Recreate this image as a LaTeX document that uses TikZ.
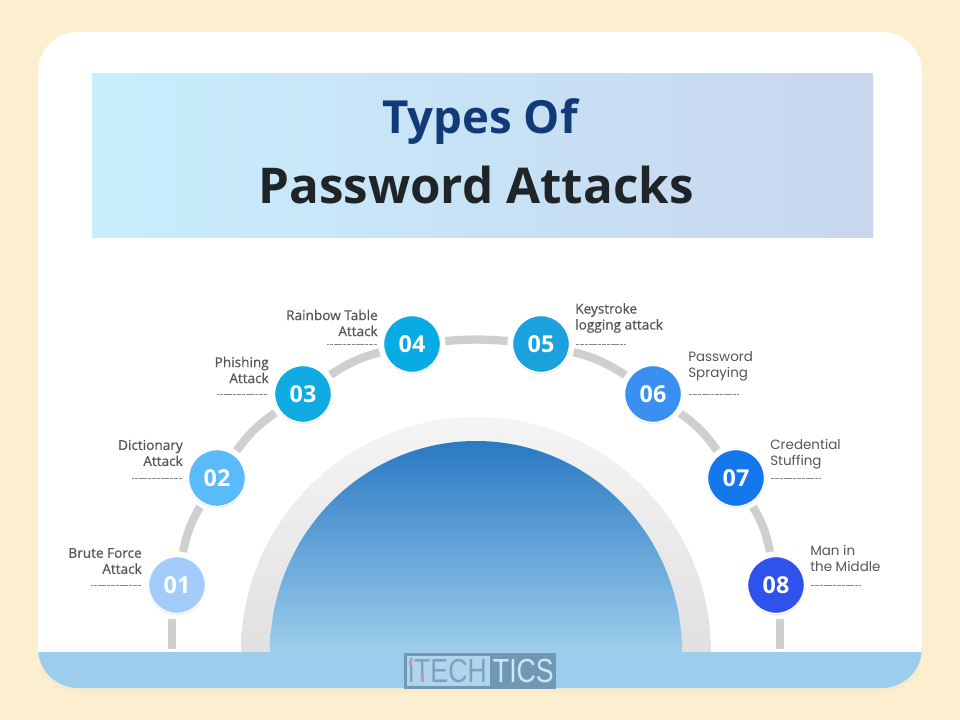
\documentclass[tikz,border=0pt]{standalone}
\usepackage{fontspec}
\setmainfont{Open Sans}
\newfontfamily\labelfont[FakeBold=0.5]{Open Sans}
\newfontfamily\poppinsfont{Poppins}
\newfontfamily\logofont[FakeStretch=0.8]{Liberation Sans}
\usepackage{xcolor}
\usepackage{tikz}
\usetikzlibrary{positioning}
\usetikzlibrary{shadows}
\definecolor{pagecream}{HTML}{FCEFCF}
\definecolor{cardshade}{HTML}{F9EAC9}
\definecolor{bannerleft}{HTML}{C8EEFC}
\definecolor{bannermid}{HTML}{CBE3F5}
\definecolor{bannerright}{HTML}{C8D6EE}
\definecolor{bandblue}{HTML}{9CCDEC}
\definecolor{archtop}{HTML}{2A79C3}
\definecolor{titlenavy}{HTML}{123A78}
\definecolor{titledark}{HTML}{1F2429}
\definecolor{labelgrey}{HTML}{55565A}
\definecolor{segmentgrey}{HTML}{CFCFCF}
\definecolor{logodark}{HTML}{6F98B4}
\definecolor{logolight}{HTML}{B0D5EC}
\definecolor{logotext}{HTML}{7BA3BF}
\definecolor{logopale}{HTML}{CFE6F5}
\definecolor{logopink}{HTML}{DE8CB4}
\definecolor{stepone}{HTML}{A3CCFB}
\definecolor{steptwo}{HTML}{5ABBFB}
\definecolor{stepthree}{HTML}{10ABE3}
\definecolor{stepfour}{HTML}{08ABE3}
\definecolor{stepfive}{HTML}{1BA1DC}
\definecolor{stepsix}{HTML}{3A90F0}
\definecolor{stepseven}{HTML}{1477EC}
\definecolor{stepeight}{HTML}{3052EC}
\tikzset{
    stepdot/.style={circle, minimum size=42.5pt, inner sep=0pt, draw=white, line width=0.8pt,
        text=white, font=\fontsize{17.5}{17.5}\selectfont\bfseries,
        drop shadow={shadow xshift=0pt, shadow yshift=-1.5pt, opacity=0.12}},
    segment/.style={line width=6.2pt, draw=segmentgrey, shorten <=3.5pt, shorten >=3.5pt},
    dashrule/.style={draw=labelgrey!70, line width=0.5pt, dash pattern=on 2.6pt off 0.7pt},
    leftlabel/.style={anchor=east, align=right, inner sep=0pt, text=labelgrey,
        font=\labelfont\fontsize{10.2}{12}\selectfont},
    rightlabel/.style={anchor=west, align=left, inner sep=0pt, text=labelgrey,
        font=\poppinsfont\fontsize{10.1}{12}\selectfont},
}
\begin{document}
\begin{tikzpicture}[x=0.75pt, y=-0.75pt]
    \useasboundingbox (0,0) rectangle (960,720);

    % Page and card
    \fill[pagecream] (0,0) rectangle (960,720);
    \fill[cardshade, rounded corners=30pt] (38,40) rectangle (922,693);
    \fill[white, rounded corners=30pt] (38,32) rectangle (922,688);

    % Title banner
    \shade[left color=bannerleft, middle color=bannermid, right color=bannerright] (92,74) rectangle (873,238);
    \node[text=titlenavy, font=\fontsize{34.2}{34.2}\selectfont\bfseries] (titletop) at (480,122) {Types Of};
    \node[text=titledark, font=\fontsize{37}{37}\selectfont\bfseries] (titlemain) at (476,185) {Password Attacks};

    % Bottom band
    \fill[bandblue] (38,652) [rounded corners=30pt] -- (38,688) -- (922,688) [sharp corners] -- (922,652) -- cycle;

    % Arch
    \shade[top color=black!4, bottom color=black!12] (241,652) arc[start angle=180, end angle=360, radius=235] -- cycle;
    \shade[top color=archtop, bottom color=bandblue] (270,652) arc[start angle=180, end angle=360, x radius=206, y radius=211] -- cycle;

    % Logo
    \fill[logodark] (404,653) rectangle (556,689);
    \fill[logolight] (407,656) rectangle (490,686);
    \node[text=logotext, font=\logofont\fontsize{25}{25}\selectfont, inner sep=0pt, anchor=west] (logoleft) at (408,671) {iTECH};
    \node[text=logopale, font=\logofont\fontsize{25}{25}\selectfont, inner sep=0pt, anchor=east] (logoright) at (554,671) {TICS};
    \fill[logopink] (408.5,660) rectangle (411.5,666);
    \fill[logopink] (420.5,674) rectangle (423.5,682);

    % Steps
    \node[stepdot, fill=stepone] (n01) at (177,585) {01};
    \node[stepdot, fill=steptwo] (n02) at (217,478) {02};
    \node[stepdot, fill=stepthree] (n03) at (303,394) {03};
    \node[stepdot, fill=stepfour] (n04) at (412,344) {04};
    \node[stepdot, fill=stepfive] (n05) at (541,344) {05};
    \node[stepdot, fill=stepsix] (n06) at (653,394) {06};
    \node[stepdot, fill=stepseven] (n07) at (736,478) {07};
    \node[stepdot, fill=stepeight] (n08) at (776,585) {08};

    % Segments of the big arc
    \coordinate (startfoot) at (172,654);
    \coordinate (endfoot) at (780,654);
    \draw[segment] (startfoot) -- (startfoot |- n01.south);
    \draw[segment] (n01) to[bend left=10] (n02);
    \draw[segment] (n02) to[bend left=10] (n03);
    \draw[segment] (n03) to[bend left=10] (n04);
    \draw[segment] (n04) to[bend left=5] (n05);
    \draw[segment] (n05) to[bend left=10] (n06);
    \draw[segment] (n06) to[bend left=10] (n07);
    \draw[segment] (n07) to[bend left=10] (n08);
    \draw[segment] (endfoot |- n08.south) -- (endfoot);

    % Labels
    \node[leftlabel] (l01) at (142,561) {Brute Force\\Attack};
    \node[leftlabel] (l02) at (183,453) {Dictionary\\Attack};
    \node[leftlabel] (l03) at (269,370) {Phishing\\Attack};
    \node[leftlabel] (l04) at (378,323) {Rainbow Table\\Attack};
    \node[anchor=west, align=left, inner sep=0pt, text=labelgrey, font=\labelfont\fontsize{10.2}{12}\selectfont] (l05) at (575,318) {Keystroke\\logging attack};
    \node[rightlabel] (l06) at (688,366) {Password\\Spraying};
    \node[rightlabel] (l07) at (770,454) {Credential\\Stuffing};
    \node[rightlabel] (l08) at (810,558) {Man in\\the Middle};

    % Rules under the labels
    \draw[dashrule] (n01.west) ++(-7,0) -- ++(-50,0);
    \draw[dashrule] (n02.west) ++(-6,0) -- ++(-50,0);
    \draw[dashrule] (n03.west) ++(-7,0) -- ++(-50,0);
    \draw[dashrule] (n04.west) ++(-6,0) -- ++(-50,0);
    \draw[dashrule] (n05.east) ++(6,0) -- ++(50,0);
    \draw[dashrule] (n06.east) ++(7,0) -- ++(50,0);
    \draw[dashrule] (n07.east) ++(6,0) -- ++(50,0);
    \draw[dashrule] (n08.east) ++(6,0) -- ++(50,0);
\end{tikzpicture}
\end{document}
